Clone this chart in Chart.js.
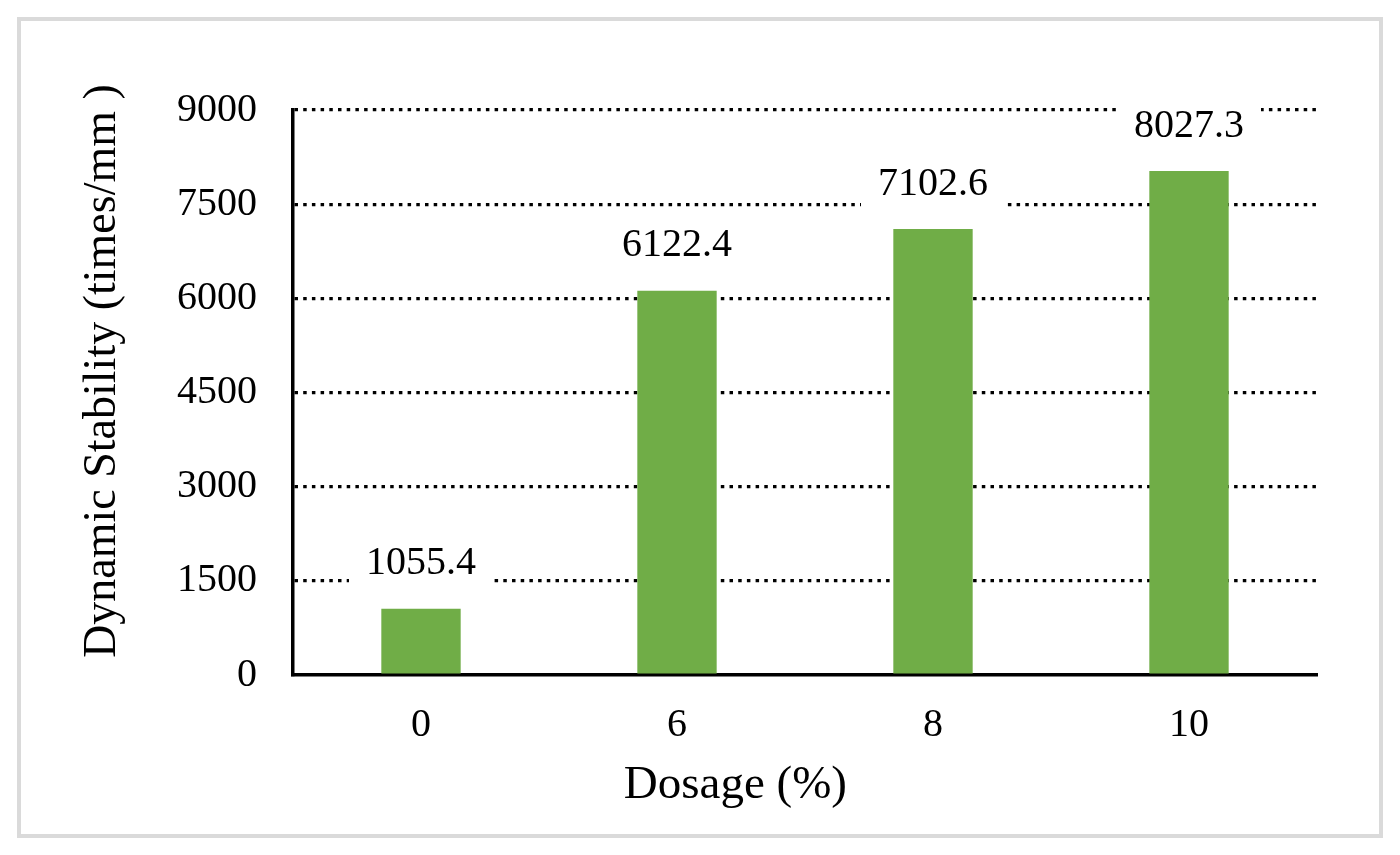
<!DOCTYPE html>
<html>
<head>
<meta charset="utf-8">
<script src="https://cdn.jsdelivr.net/npm/chart.js@4/dist/chart.umd.min.js"></script>
<style>
  html, body { margin: 0; padding: 0; background: #ffffff; }
  #wrap { position: relative; width: 1400px; height: 855px; }
  #frame { position: absolute; left: 17px; top: 17px; width: 1366px; height: 821px;
           border: 4px solid #dadada; box-sizing: border-box; pointer-events: none; }
  canvas { position: absolute; left: 0; top: 0; }
</style>
</head>
<body>
<div id="wrap">
  <canvas id="c" width="1400" height="855"></canvas>
  <div id="frame"></div>
</div>
<script>
const categories = ['0', '6', '8', '10'];
const stabilityValues = [1055.4, 6122.4, 7102.6, 8027.3];
const yTickMin = 0;
const yTickMax = 9000;
const yTickStep = 1500;
const xTitle = 'Dosage (%)';
const yTitle = 'Dynamic Stability (times/mm )';

const FONT = "'Liberation Serif', 'Times New Roman', serif";

const valueLabels = {
  id: 'valueLabels',
  afterDatasetsDraw(chart) {
    const ctx = chart.ctx;
    const meta = chart.getDatasetMeta(0);
    const data = chart.data.datasets[0].data;
    ctx.save();
    ctx.font = '40px ' + FONT;
    ctx.textAlign = 'center';
    ctx.textBaseline = 'middle';
    meta.data.forEach((bar, i) => {
      const txt = Number(data[i]).toFixed(1);
      const w = ctx.measureText(txt).width;
      const cx = bar.x;
      const cy = bar.y - 45;
      ctx.fillStyle = '#ffffff';
      ctx.fillRect(cx - w / 2 - 17, cy - 24, w + 34, 48);
      ctx.fillStyle = '#000000';
      ctx.fillText(txt, cx, cy);
    });
    ctx.restore();
  }
};

const axisTitles = {
  id: 'axisTitles',
  afterDraw(chart) {
    const ctx = chart.ctx;
    const a = chart.chartArea;
    ctx.save();
    ctx.fillStyle = '#000000';
    ctx.textAlign = 'center';
    ctx.textBaseline = 'middle';
    // x-axis title
    ctx.font = '47px ' + FONT;
    ctx.fillText(xTitle, a.left + (a.right - a.left) * 0.432, a.bottom + 111);
    // y-axis title
    ctx.font = '46px ' + FONT;
    ctx.translate(a.left - 190, a.top + (a.bottom - a.top) * 0.462);
    ctx.rotate(-Math.PI / 2);
    ctx.fillText(yTitle, 0, 0);
    ctx.restore();
  }
};

new Chart(document.getElementById('c'), {
  type: 'bar',
  data: {
    labels: categories,
    datasets: [{
      data: stabilityValues,
      backgroundColor: '#70ad47',
      borderWidth: 0,
      categoryPercentage: 1.0,
      barPercentage: 0.31
    }]
  },
  options: {
    responsive: false,
    animation: false,
    devicePixelRatio: 1,
    layout: { padding: { left: 75, top: 110, right: 83, bottom: 41 } },
    plugins: {
      legend: { display: false },
      tooltip: { enabled: false }
    },
    scales: {
      x: {
        grid: { display: false, drawTicks: false },
        border: { display: true, color: '#000000', width: 3.5 },
        ticks: { color: '#000000', font: { family: FONT, size: 40 }, padding: 26 },
        title: { display: false, text: xTitle },
        afterFit(scale) { scale.height = 139; }
      },
      y: {
        min: yTickMin,
        max: yTickMax,
        grid: {
          drawTicks: false,
          lineWidth: 3.2,
          color: (c) => (c.tick && c.tick.value === 0) ? 'rgba(0,0,0,0)' : '#000000'
        },
        border: { display: true, color: '#000000', width: 3.5, dash: [3.5, 5.2] },
        ticks: {
          stepSize: yTickStep,
          color: '#000000',
          font: { family: FONT, size: 40 },
          padding: 36,
          callback: (v) => String(v)
        },
        title: { display: false, text: yTitle },
        afterFit(scale) { scale.width = 218; }
      }
    }
  },
  plugins: [valueLabels, axisTitles]
});
</script>
</body>
</html>
